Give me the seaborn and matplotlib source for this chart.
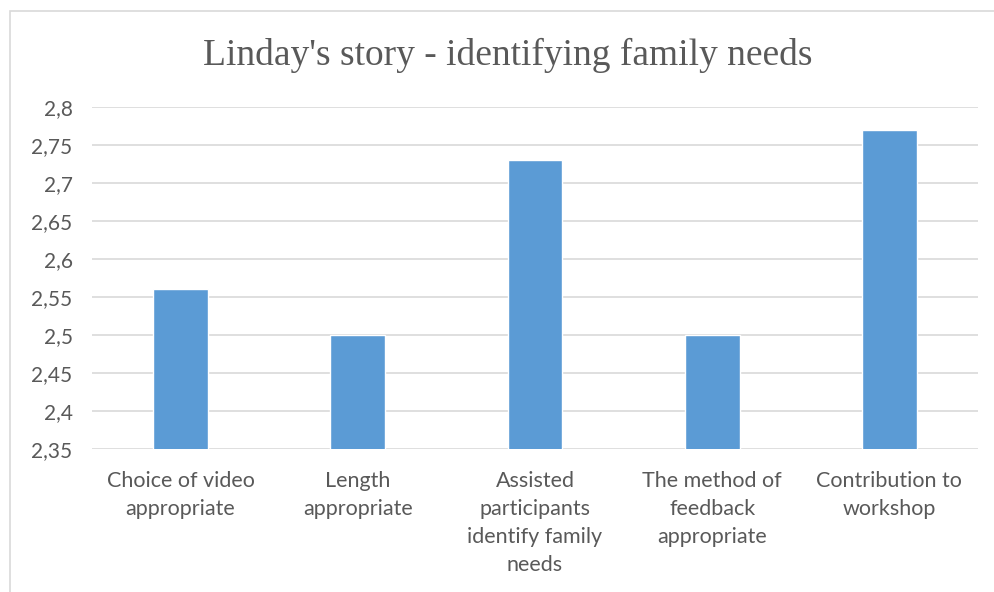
import matplotlib
matplotlib.use("Agg")
import matplotlib.pyplot as plt
import seaborn as sns
import pandas as pd
from matplotlib.patches import Rectangle
from matplotlib.ticker import FuncFormatter

categories = ["Choice of video\nappropriate", "Length\nappropriate",
              "Assisted\nparticipants\nidentify family\nneeds",
              "The method of\nfeedback\nappropriate", "Contribution to\nworkshop"]
values = [2.56, 2.50, 2.73, 2.50, 2.77]
title = "Linday's story - identifying family needs"
yticks = [2.35, 2.4, 2.45, 2.5, 2.55, 2.6, 2.65, 2.7, 2.75, 2.8]

sns.set_theme(style="white")
plt.rcParams['font.family'] = ['Lato', 'DejaVu Sans']

df = pd.DataFrame({"cat": categories, "val": values})

fig = plt.figure(figsize=(9.95, 5.92), dpi=100)
ax = fig.add_axes([92/995, 1-449/592, (978-92)/995, (449-107)/592])

sns.barplot(data=df, x="cat", y="val", color="#5B9BD5", width=0.31,
            saturation=1, ax=ax, zorder=3)

ax.set_ylim(2.35, 2.8)
ax.set_yticks(yticks)
ax.yaxis.set_major_formatter(FuncFormatter(lambda v, p: f"{v:g}".replace('.', ',')))
ax.grid(axis='y', color='#D9D9D9', linewidth=1.2, zorder=0)
ax.set_axisbelow(True)
for s in ax.spines.values():
    s.set_visible(False)
ax.set_xlabel("")
ax.set_ylabel("")
ax.tick_params(axis='y', length=0, colors='#595959', labelsize=15)
ax.tick_params(axis='x', length=0, colors='#595959', labelsize=15.5, pad=16)
ax.tick_params(axis='y', pad=14)
for lab in ax.get_xticklabels():
    lab.set_linespacing(1.5)

fig.text(508/995, 1-55/592, title, ha='center', va='center',
         fontsize=27, color='#595959', family=['Liberation Serif', 'DejaVu Serif'])

fig.patches.append(Rectangle((10/995, -0.1), 1.2, 1.1 - 11/592, transform=fig.transFigure,
                             fill=False, edgecolor='#D9D9D9', linewidth=1.2))

fig.savefig("out.png", dpi=100)
